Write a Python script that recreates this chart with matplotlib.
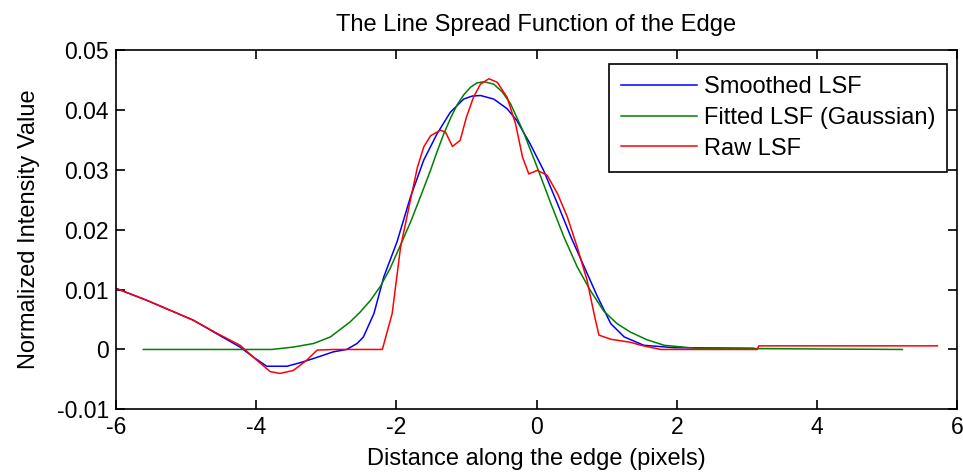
import matplotlib
matplotlib.use("Agg")
import matplotlib.pyplot as plt

plt.rcParams['font.family'] = ['Liberation Sans', 'DejaVu Sans']
plt.rcParams['axes.unicode_minus'] = False

# Raw LSF (red)
raw_x = [-6.0, -5.56, -5.28, -4.90, -4.56, -4.23, -3.99, -3.80, -3.66, -3.47, -3.28,
         -3.13, -2.89, -2.20, -2.06, -1.94, -1.80, -1.70, -1.61, -1.51, -1.37, -1.30,
         -1.20, -1.09, -1.00, -0.90, -0.80, -0.68, -0.56, -0.42, -0.30, -0.20, -0.11,
         0.01, 0.15, 0.30, 0.44, 0.58, 0.72, 0.82, 0.89, 1.06, 1.34, 1.49, 1.77,
         3.15, 3.17, 5.72]
raw_y = [0.0102, 0.0082, 0.0068, 0.0049, 0.0027, 0.0007, -0.0018, -0.0037, -0.0040,
         -0.0035, -0.0018, -0.0001, 0.0, 0.0, 0.0060, 0.0171, 0.0249, 0.0304, 0.0338,
         0.0357, 0.0366, 0.0363, 0.0339, 0.0349, 0.0388, 0.0421, 0.0443, 0.0452,
         0.0446, 0.0421, 0.0377, 0.0321, 0.0293, 0.0299, 0.0291, 0.0260, 0.0221,
         0.0171, 0.0116, 0.0060, 0.0024, 0.0017, 0.0012, 0.0007, 0.0, 0.0, 0.0006,
         0.0006]

# Smoothed LSF (blue)
smooth_x = [-6.0, -5.56, -5.28, -4.90, -4.56, -4.23, -4.05, -3.85, -3.56, -3.37,
            -3.18, -2.90, -2.71, -2.56, -2.47, -2.32, -2.18, -1.99, -1.80, -1.61,
            -1.42, -1.23, -1.04, -0.92, -0.80, -0.61, -0.42, -0.28, -0.09, 0.10, 0.30,
            0.49, 0.68, 0.87, 1.06, 1.25, 1.53, 1.96, 3.10]
smooth_y = [0.0102, 0.0082, 0.0068, 0.0049, 0.0026, 0.0004, -0.0012, -0.0028,
            -0.0028, -0.0022, -0.0015, -0.0004, 0.0, 0.0010, 0.0021, 0.0060, 0.0121,
            0.0180, 0.0254, 0.0316, 0.0360, 0.0396, 0.0418, 0.0423, 0.0424, 0.0418,
            0.0402, 0.0382, 0.0343, 0.0299, 0.0243, 0.0188, 0.0138, 0.0088, 0.0043,
            0.0021, 0.0007, 0.0003, 0.0002]

# Fitted LSF, Gaussian (green)
fit_x = [-5.61, -3.78, -3.47, -3.18, -2.94, -2.66, -2.52, -2.37, -2.23, -2.09, -1.95,
         -1.80, -1.65, -1.51, -1.42, -1.32, -1.22, -1.13, -1.04, -0.94, -0.85, -0.75,
         -0.61, -0.49, -0.37, -0.19, 0.01, 0.20, 0.39, 0.58, 0.77, 0.96, 1.15, 1.34,
         1.58, 1.82, 2.27, 5.22]
fit_y = [0.0, 0.0, 0.0004, 0.0010, 0.0021, 0.0046, 0.0062, 0.0082, 0.0105, 0.0135,
         0.0172, 0.0212, 0.0257, 0.0300, 0.0330, 0.0361, 0.0388, 0.0409, 0.0425,
         0.0438, 0.0445, 0.0447, 0.0443, 0.0430, 0.0410, 0.0364, 0.0304, 0.0245,
         0.0188, 0.0138, 0.0098, 0.0064, 0.0043, 0.0029, 0.0016, 0.0007, 0.0002, 0.0]

fig = plt.figure(figsize=(9.63, 4.76), dpi=100)
ax = fig.add_axes([0.1205, 0.140, 0.8733, 0.755])

ax.plot(smooth_x, smooth_y, color='#0000ff', lw=1.1, label='Smoothed LSF')
ax.plot(fit_x, fit_y, color='#008000', lw=1.1, label='Fitted LSF (Gaussian)')
ax.plot(raw_x, raw_y, color='#ff0000', lw=1.1, label='Raw LSF')

ax.set_xlim(-6, 6)
ax.set_ylim(-0.01, 0.05)
ax.set_xticks([-6, -4, -2, 0, 2, 4, 6])
ax.set_yticks([-0.01, 0, 0.01, 0.02, 0.03, 0.04, 0.05])
ax.set_yticklabels(['-0.01', '0', '0.01', '0.02', '0.03', '0.04', '0.05'])
ax.tick_params(direction='in', top=True, right=True, length=6.5, width=1.2,
               labelsize=16.5, pad=5)
for s in ax.spines.values():
    s.set_linewidth(1.2)

ax.set_title('The Line Spread Function of the Edge', fontsize=17, pad=14)
ax.set_xlabel('Distance along the edge (pixels)', fontsize=17, labelpad=6)
ax.set_ylabel('Normalized Intensity Value', fontsize=17, labelpad=12)

leg = ax.legend(loc='upper right', bbox_to_anchor=(0.988, 0.961), fontsize=17,
                fancybox=False, edgecolor='black', framealpha=1,
                handlelength=3.2, handletextpad=0.3, borderpad=0.5,
                labelspacing=0.38, borderaxespad=0)
leg.get_frame().set_linewidth(1.2)

fig.savefig('out.png', dpi=100)
